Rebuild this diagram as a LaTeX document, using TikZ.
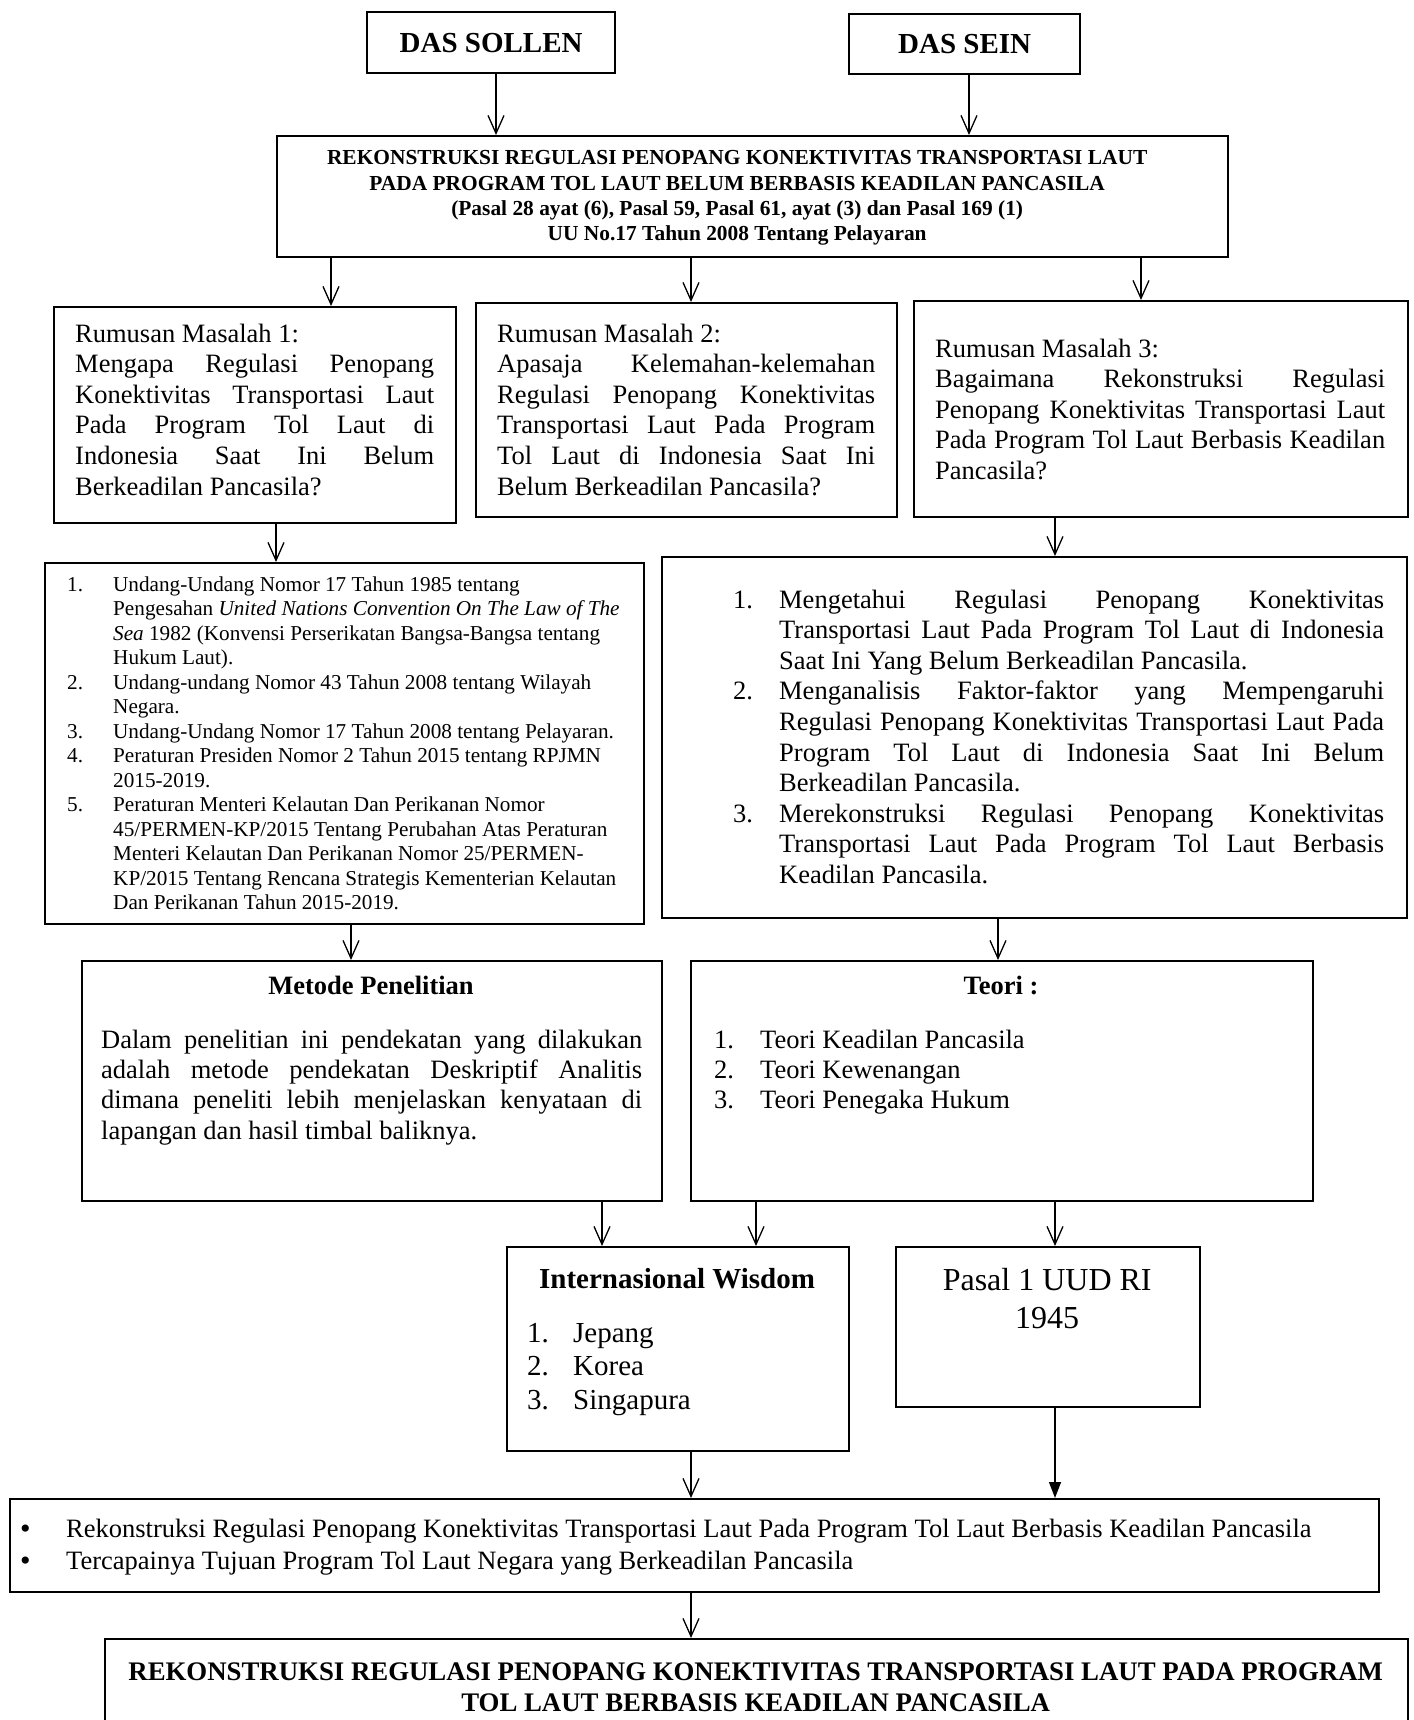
\documentclass[tikz,border=0pt]{standalone}
\usepackage{fontspec}
\setmainfont{Liberation Serif}
\usetikzlibrary{arrows.meta}
\newcommand\JL[1]{\hbox to\hsize{#1}}
\newcommand\LL[1]{\hbox to\hsize{#1\hfil}}
\newcommand\CL[1]{\hbox to\hsize{\hfil#1\hfil}}
\newcommand\NJ[2]{\hbox to\hsize{\hbox to 46pt{#1\hfil}#2}}
\newcommand\NL[2]{\hbox to\hsize{\hbox to 46pt{#1\hfil}#2\hfil}}
\newcommand\BigBullet{\smash{\raisebox{-1pt}{\fontsize{30}{30}\selectfont\textbullet}}}
\tikzset{
  box/.style={draw, line width=2.2pt, inner sep=0pt, anchor=north west},
  txt/.style={inner sep=0pt, anchor=base west},
  ctxt/.style={inner sep=0pt, anchor=base},
  arr/.style={line width=1.3pt, -{Straight Barb[length=18pt,width=16pt]}},
  farr/.style={line width=1.3pt, -{Triangle[length=16pt,width=12pt]}},
}
\begin{document}
\begin{tikzpicture}[x=1pt,y=-1pt]
\path[use as bounding box, fill=white] (0,0) rectangle (1413,1720);
\clip (0,0) rectangle (1413,1720);

% top boxes
\node[box, minimum width=248pt, minimum height=61pt,
      font=\bfseries\fontsize{29}{34}\selectfont] (sollen) at (366,11) {DAS SOLLEN};
\node[box, minimum width=231pt, minimum height=60pt,
      font=\bfseries\fontsize{29}{34}\selectfont] (sein) at (848,13) {DAS SEIN};

\node[box, minimum width=951pt, minimum height=121pt] (main) at (276,135) {};
\node[txt] (maint) at (287,165) {\vtop{\hsize=900pt\bfseries\fontsize{21.4}{25.3}\selectfont
  \CL{REKONSTRUKSI REGULASI PENOPANG KONEKTIVITAS TRANSPORTASI LAUT}
  \CL{PADA PROGRAM TOL LAUT BELUM BERBASIS KEADILAN PANCASILA}
  \CL{(Pasal 28 ayat (6), Pasal 59, Pasal 61, ayat (3) dan Pasal 169 (1)}
  \CL{UU No.17 Tahun 2008 Tentang Pelayaran}}};

% rumusan masalah
\node[box, minimum width=402pt, minimum height=216pt] (rm1) at (53,306) {};
\node[txt] (rm1t) at (75,342) {\vtop{\hsize=359pt\fontsize{26.5}{30.6}\selectfont
  \LL{Rumusan Masalah 1:}
  \JL{Mengapa Regulasi Penopang}
  \JL{Konektivitas Transportasi Laut}
  \JL{Pada Program Tol Laut di}
  \JL{Indonesia Saat Ini Belum}
  \LL{Berkeadilan Pancasila?}}};

\node[box, minimum width=421pt, minimum height=214pt] (rm2) at (475,302) {};
\node[txt] (rm2t) at (497,342) {\vtop{\hsize=378pt\fontsize{26.5}{30.6}\selectfont
  \LL{Rumusan Masalah 2:}
  \JL{Apasaja Kelemahan-kelemahan}
  \JL{Regulasi Penopang Konektivitas}
  \JL{Transportasi Laut Pada Program}
  \JL{Tol Laut di Indonesia Saat Ini}
  \LL{Belum Berkeadilan Pancasila?}}};

\node[box, minimum width=494pt, minimum height=216pt] (rm3) at (913,300) {};
\node[txt] (rm3t) at (935,357) {\vtop{\hsize=450pt\fontsize{26.5}{30.6}\selectfont
  \LL{Rumusan Masalah 3:}
  \JL{Bagaimana Rekonstruksi Regulasi}
  \JL{Penopang Konektivitas Transportasi Laut}
  \JL{Pada Program Tol Laut Berbasis Keadilan}
  \LL{Pancasila?}}};

% laws
\node[box, minimum width=599pt, minimum height=361pt] (laws) at (44,562) {};
\node[txt] (lawst) at (67,591) {\vtop{\hsize=570pt\fontsize{21.2}{24.5}\selectfont
  \NL{1.}{Undang-Undang Nomor 17 Tahun 1985 tentang}
  \NL{}{Pengesahan \textit{United Nations Convention On The Law of The}}
  \NL{}{\textit{Sea} 1982 (Konvensi Perserikatan Bangsa-Bangsa tentang}
  \NL{}{Hukum Laut).}
  \NL{2.}{Undang-undang Nomor 43 Tahun 2008 tentang Wilayah}
  \NL{}{Negara.}
  \NL{3.}{Undang-Undang Nomor 17 Tahun 2008 tentang Pelayaran.}
  \NL{4.}{Peraturan Presiden Nomor 2 Tahun 2015 tentang RPJMN}
  \NL{}{2015-2019.}
  \NL{5.}{Peraturan Menteri Kelautan Dan Perikanan Nomor}
  \NL{}{45/PERMEN-KP/2015 Tentang Perubahan Atas Peraturan}
  \NL{}{Menteri Kelautan Dan Perikanan Nomor 25/PERMEN-}
  \NL{}{KP/2015 Tentang Rencana Strategis Kementerian Kelautan}
  \NL{}{Dan Perikanan Tahun 2015-2019.}}};

% objectives
\node[box, minimum width=745pt, minimum height=361pt] (obj) at (661,556) {};
\node[txt] (objt) at (733,608) {\vtop{\hsize=651pt\fontsize{26.5}{30.6}\selectfont
  \NJ{1.}{Mengetahui Regulasi Penopang Konektivitas}
  \NJ{}{Transportasi Laut Pada Program Tol Laut di Indonesia}
  \NL{}{Saat Ini Yang Belum Berkeadilan Pancasila.}
  \NJ{2.}{Menganalisis Faktor-faktor yang Mempengaruhi}
  \NJ{}{Regulasi Penopang Konektivitas Transportasi Laut Pada}
  \NJ{}{Program Tol Laut di Indonesia Saat Ini Belum}
  \NL{}{Berkeadilan Pancasila.}
  \NJ{3.}{Merekonstruksi Regulasi Penopang Konektivitas}
  \NJ{}{Transportasi Laut Pada Program Tol Laut Berbasis}
  \NL{}{Keadilan Pancasila.}}};

% metode & teori
\node[box, minimum width=580pt, minimum height=240pt] (metode) at (81,960) {};
\node[ctxt, font=\bfseries\fontsize{26.5}{30.6}\selectfont] (metodeh) at (371,994) {Metode Penelitian};
\node[txt] (metodet) at (101,1048) {\vtop{\hsize=541pt\fontsize{26.5}{30.4}\selectfont
  \JL{Dalam penelitian ini pendekatan yang dilakukan}
  \JL{adalah metode pendekatan Deskriptif Analitis}
  \JL{dimana peneliti lebih menjelaskan kenyataan di}
  \LL{lapangan dan hasil timbal baliknya.}}};

\node[box, minimum width=622pt, minimum height=240pt] (teori) at (690,960) {};
\node[ctxt, font=\bfseries\fontsize{26.5}{30.6}\selectfont] (teorih) at (1001,994) {Teori :};
\node[txt] (teorit) at (714,1048) {\vtop{\hsize=400pt\fontsize{26.5}{30.0}\selectfont
  \NL{1.}{Teori Keadilan Pancasila}
  \NL{2.}{Teori Kewenangan}
  \NL{3.}{Teori Penegaka Hukum}}};

% internasional wisdom & pasal
\node[box, minimum width=342pt, minimum height=204pt] (iw) at (506,1246) {};
\node[ctxt, font=\bfseries\fontsize{29}{34}\selectfont] (iwh) at (677,1288) {Internasional Wisdom};
\node[txt] (iwt) at (527,1342) {\vtop{\hsize=300pt\fontsize{29}{33.5}\selectfont
  \NL{1.}{Jepang}
  \NL{2.}{Korea}
  \NL{3.}{Singapura}}};

\node[box, minimum width=304pt, minimum height=160pt] (pasal) at (895,1246) {};
\node[txt] (pasalt) at (895,1290) {\vtop{\hsize=304pt\fontsize{32}{38}\selectfont
  \CL{Pasal 1 UUD RI}
  \CL{1945}}};

% result
\node[box, minimum width=1369pt, minimum height=93pt] (result) at (9,1498) {};
\node[txt] (resultt) at (20,1537) {\vtop{\hsize=1350pt\fontsize{26.5}{32}\selectfont
  \NL{\BigBullet}{Rekonstruksi Regulasi Penopang Konektivitas Transportasi Laut Pada Program Tol Laut Berbasis Keadilan Pancasila}
  \NL{\BigBullet}{Tercapainya Tujuan Program Tol Laut Negara yang Berkeadilan Pancasila}}};

% final
\node[box, minimum width=1303pt, minimum height=110pt] (final) at (104,1638) {};
\node[txt] (finalt) at (104,1680) {\vtop{\hsize=1303pt\bfseries\fontsize{26.8}{31}\selectfont
  \CL{REKONSTRUKSI REGULASI PENOPANG KONEKTIVITAS TRANSPORTASI LAUT PADA PROGRAM}
  \CL{TOL LAUT BERBASIS KEADILAN PANCASILA}}};

% connectors
\draw[arr] (496,0 |- sollen.south) -- (496,0 |- main.north);
\draw[arr] (969,0 |- sein.south) -- (969,0 |- main.north);
\draw[arr] (331,0 |- main.south) -- (331,0 |- rm1.north);
\draw[arr] (691,0 |- main.south) -- (691,0 |- rm2.north);
\draw[arr] (1141,0 |- main.south) -- (1141,0 |- rm3.north);
\draw[arr] (276,0 |- rm1.south) -- (276,0 |- laws.north);
\draw[arr] (1055,0 |- rm3.south) -- (1055,0 |- obj.north);
\draw[arr] (351,0 |- laws.south) -- (351,0 |- metode.north);
\draw[arr] (998,0 |- obj.south) -- (998,0 |- teori.north);
\draw[arr] (602,0 |- metode.south) -- (602,0 |- iw.north);
\draw[arr] (756,0 |- teori.south) -- (756,0 |- iw.north);
\draw[arr] (1055,0 |- teori.south) -- (1055,0 |- pasal.north);
\draw[arr] (691,0 |- iw.south) -- (691,0 |- result.north);
\draw[farr] (1055,0 |- pasal.south) -- (1055,0 |- result.north);
\draw[arr] (691,0 |- result.south) -- (691,0 |- final.north);
\end{tikzpicture}
\end{document}
